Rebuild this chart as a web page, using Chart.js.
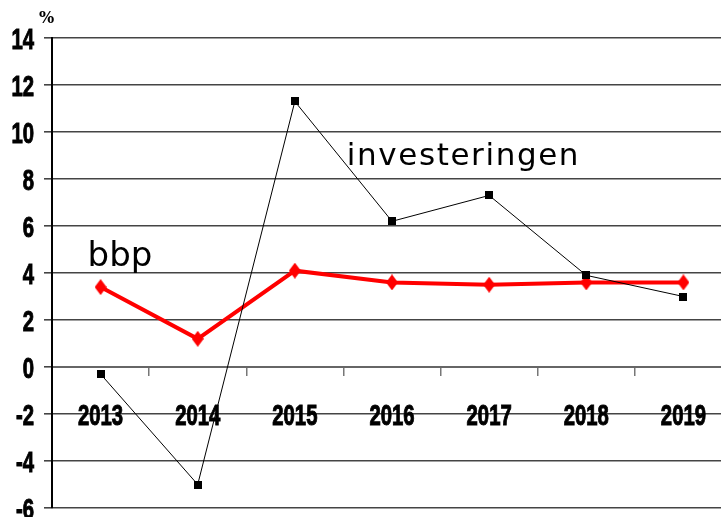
<!DOCTYPE html>
<html>
<head>
<meta charset="utf-8">
<script src="https://cdn.jsdelivr.net/npm/chart.js@4.4.1/dist/chart.umd.min.js"></script>
<style>
  html, body { margin: 0; padding: 0; background: #fff; overflow: hidden; }
  #wrap { width: 740px; height: 532px; }
</style>
</head>
<body>
<div id="wrap"><canvas id="chart"></canvas></div>
<script>
const YEARS = ["2013", "2014", "2015", "2016", "2017", "2018", "2019"]
const INVESTERINGEN = [-0.3, -5.0, 11.3, 6.2, 7.3, 3.9, 3.0]
const BBP = [3.4, 1.2, 4.1, 3.6, 3.5, 3.6, 3.6]
const Y_MIN = -6
const Y_MAX = 14
const Y_STEP = 2

const TICK_FONT = "bold 29px 'Liberation Sans', Arial, sans-serif"
const TICK_SQUEEZE = 0.7

// tall red diamond marker
const diamond = document.createElement("canvas")
diamond.width = 12
diamond.height = 16
{
  const c = diamond.getContext("2d")
  c.fillStyle = "#ff0000"
  c.beginPath()
  c.moveTo(6, 0)
  c.lineTo(12, 8)
  c.lineTo(6, 16)
  c.lineTo(0, 8)
  c.closePath()
  c.fill()
}

// small black square marker
const square = document.createElement("canvas")
square.width = 8
square.height = 8
{
  const c = square.getContext("2d")
  c.fillStyle = "#000"
  c.fillRect(0, 0, 8, 8)
}

// squeezed bold text, like the narrow font of the original
const drawNarrow = (ctx, text, x, y, align) => {
  const w = ctx.measureText(text).width * TICK_SQUEEZE
  let left = x
  if (align === "center") left = x - w / 2
  if (align === "right") left = x - w
  ctx.save()
  ctx.translate(left, y)
  ctx.scale(TICK_SQUEEZE, 1)
  ctx.textAlign = "left"
  ctx.lineWidth = 1
  ctx.strokeStyle = "#000"
  ctx.fillText(text, 0, 0)
  ctx.strokeText(text, 0, 0)
  ctx.restore()
}

const tickText = {
  id: "tickText",
  afterDraw: (chart) => {
    const { ctx, scales, chartArea } = chart
    const { x, y } = scales
    ctx.save()
    ctx.fillStyle = "#000"
    ctx.textBaseline = "alphabetic"
    ctx.font = TICK_FONT

    y.ticks.forEach((t) => {
      const py = y.getPixelForValue(t.value)
      drawNarrow(ctx, String(t.value), chartArea.left - 18, py + 10.5, "right")
    })

    const base = y.getPixelForValue(0) + 58
    YEARS.forEach((lbl, i) => {
      drawNarrow(ctx, lbl, x.getPixelForValue(i), base, "center")
    })

    ctx.font = "bold 16px 'DejaVu Serif'"
    ctx.fillText("%", chartArea.left - 13, chartArea.top - 15)

    ctx.font = "34px 'DejaVu Sans'"
    ctx.fillText("bbp", x.getPixelForValue(0) - 13, y.getPixelForValue(4.3))
    ctx.font = "31px 'DejaVu Sans'"
    ctx.letterSpacing = "1.6px"
    ctx.fillText("investeringen", x.getPixelForValue(2) + 52, y.getPixelForValue(8.6))
    ctx.restore()
  },
}

new Chart(document.getElementById("chart"), {
  type: "line",
  data: {
    labels: YEARS,
    datasets: [
      {
        label: "investeringen",
        data: INVESTERINGEN,
        borderColor: "#000",
        borderWidth: 1,
        pointStyle: square,
        tension: 0,
        order: 0,
      },
      {
        label: "bbp",
        data: BBP,
        borderColor: "#ff0000",
        borderWidth: 4,
        pointStyle: diamond,
        tension: 0,
        order: 1,
      },
    ],
  },
  options: {
    animation: false,
    responsive: true,
    maintainAspectRatio: false,
    layout: { padding: { top: 38, bottom: 24, right: 7, left: 0 } },
    plugins: {
      legend: { display: false },
      tooltip: { enabled: false },
    },
    scales: {
      x: {
        position: { y: 0 },
        offset: true,
        grid: {
          offset: true,
          drawOnChartArea: false,
          tickLength: 8,
          color: "#777",
          lineWidth: 1.5,
        },
        border: { display: true, color: "#666", width: 2 },
        ticks: { display: false },
      },
      y: {
        min: Y_MIN,
        max: Y_MAX,
        afterFit: (scale) => {
          scale.width = 52
        },
        grid: {
          color: "#444",
          lineWidth: 1.6,
          tickLength: 8,
        },
        border: { display: true, color: "#000", width: 2 },
        ticks: { display: false, stepSize: Y_STEP },
      },
    },
  },
  plugins: [tickText],
})
</script>
</body>
</html>
